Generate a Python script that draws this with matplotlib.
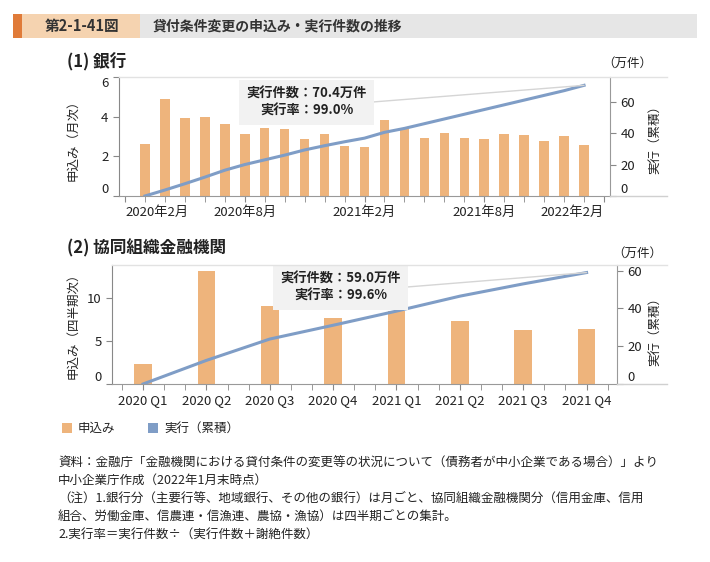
import matplotlib
matplotlib.use("Agg")
import matplotlib.pyplot as plt
from matplotlib.patches import Rectangle
from matplotlib.lines import Line2D
import numpy as np

plt.rcParams['font.family'] = ['Noto Sans CJK JP', 'DejaVu Sans']

# data -----------------------------------------------------------------
# (1) banks, monthly 2020/3 - 2022/1 (万件)
bank_apps = [2.61, 4.89, 3.93, 3.97, 3.62, 3.11, 3.43, 3.38, 2.89, 3.11, 2.52, 2.49,
             3.83, 3.38, 2.92, 3.18, 2.92, 2.89, 3.11, 3.06, 2.76, 3.03, 2.57]
bank_cum = [0, 3.8, 7.8, 12.0, 16.4, 20.0, 23.0, 26.0, 29.3, 32.0, 34.5, 36.8,
            40.5, 43.0, 46.0, 49.0, 52.0, 55.0, 58.0, 61.0, 64.0, 67.0, 70.4]
bank_ticklabels = ['2020年2月', '2020年8月', '2021年2月', '2021年8月', '2022年2月']

# (2) cooperative institutions, quarterly
quarters = ['2020 Q1', '2020 Q2', '2020 Q3', '2020 Q4', '2021 Q1', '2021 Q2', '2021 Q3', '2021 Q4']
coop_apps = [2.29, 13.1, 9.07, 7.7, 8.5, 7.33, 6.28, 6.4]
coop_cum = [0, 12.5, 23.8, 31.1, 38.6, 46.5, 53.0, 59.0]

bank_note = '実行件数：70.4万件\n実行率：99.0%'
coop_note = '実行件数：59.0万件\n実行率：99.6%'

BAR = '#EEB47C'
LINE = '#7F9DC6'
TXT = '#222222'
W, H = 710, 562


def fx(px):
    return px / W


def fy(py):
    return 1 - py / H


fig = plt.figure(figsize=(7.1, 5.62), dpi=100, facecolor='white')

# header --------------------------------------------------------------
fig.patches.append(Rectangle((fx(13), fy(38)), fx(9), 24 / H, transform=fig.transFigure,
                             facecolor='#E07B39', edgecolor='none'))
fig.patches.append(Rectangle((fx(22), fy(38)), fx(118), 24 / H, transform=fig.transFigure,
                             facecolor='#F5D3B0', edgecolor='none'))
fig.patches.append(Rectangle((fx(140), fy(38)), fx(557), 24 / H, transform=fig.transFigure,
                             facecolor='#E6E6E6', edgecolor='none'))
fig.text(fx(82), fy(26), '第2-1-41図', ha='center', va='center', fontsize=10.5,
         fontweight='bold', color='#333333')
fig.text(fx(153), fy(26), '貸付条件変更の申込み・実行件数の推移', ha='left', va='center',
         fontsize=10, fontweight='bold', color='#333333')


def style_axes(ax, ax2, rect):
    for s in ['top', 'right']:
        ax.spines[s].set_visible(False)
    ax.spines['left'].set_color('#888888')
    ax.spines['bottom'].set_color('#999999')
    for s in ['top', 'left', 'bottom']:
        ax2.spines[s].set_visible(False)
    ax2.spines['right'].set_color('#999999')
    ax.tick_params(axis='both', colors='#888888', labelcolor=TXT, labelsize=9.5, length=4)
    ax.tick_params(axis='x', which='minor', colors='#888888', length=4)
    ax2.tick_params(axis='y', colors='#888888', labelcolor=TXT, labelsize=9.5, length=4)
    # light frame lines that run past the right axis
    left, right, top, bottom = rect
    fig.lines.append(Line2D([fx(left), fx(667)], [fy(top), fy(top)], transform=fig.transFigure,
                            color='#E2E2E2', lw=1))
    fig.lines.append(Line2D([fx(right), fx(667)], [fy(bottom), fy(bottom)],
                            transform=fig.transFigure, color='#D0D0D0', lw=1))


def push_inside(ax):
    labels = ax.get_yticklabels()
    ticks = ax.get_yticks()
    lo, hi = ax.get_ylim()
    for t, lab in zip(ticks, labels):
        if abs(t - lo) < 1e-6:
            lab.set_va('bottom')
        elif abs(t - hi) < 1e-6:
            lab.set_va('top')


# (1) banks ------------------------------------------------------------
r1 = (119, 610, 77, 196)
ax1 = fig.add_axes([fx(r1[0]), fy(r1[3]), (r1[1] - r1[0]) / W, (r1[3] - r1[2]) / H])
ax1b = ax1.twinx()
x1 = np.arange(len(bank_apps))
ax1.bar(x1, bank_apps, width=0.48, color=BAR, zorder=2)
ax1.set_xlim(-1.3, 23.3)
ax1.set_ylim(0, 6)
ax1.set_yticks([0, 2, 4, 6])
major1 = np.arange(-1, 24, 6)
ax1.set_xticks(major1)
ax1.set_xticklabels(bank_ticklabels)
ax1.set_xticks(np.arange(-1, 24), minor=True)
xl = ax1.get_xticklabels()
xl[0].set_ha('left')
xl[-1].set_ha('right')
ax1b.plot(x1, bank_cum, color=LINE, lw=2.2, zorder=3)
ax1b.set_ylim(0, 75.7)
ax1b.set_yticks([0, 20, 40, 60])
style_axes(ax1, ax1b, r1)
push_inside(ax1)
push_inside(ax1b)
ax1b.annotate(bank_note, xy=(x1[-1], bank_cum[-1]), xycoords='data',
              xytext=(0.382, 0.786), textcoords='axes fraction', ha='center', va='center',
              fontsize=9.5, fontweight='bold', color=TXT, linespacing=1.25,
              bbox=dict(boxstyle='square,pad=0.55', facecolor='#F2F2F2', edgecolor='none'),
              arrowprops=dict(arrowstyle='-', color='#D5D5D5', lw=1,
                              relpos=(1, 0.5), shrinkA=0, shrinkB=0))

fig.text(fx(67), fy(62), '(1) 銀行', ha='left', va='center', fontsize=12, fontweight='bold',
         color=TXT)
fig.text(fx(73), fy(137), '申込み（月次）', rotation=90, ha='center', va='center',
         fontsize=9, color=TXT)
fig.text(fx(655), fy(137), '実行（累積）', rotation=90, ha='center', va='center',
         fontsize=9, color=TXT)
fig.text(fx(627), fy(63), '（万件）', ha='center', va='center', fontsize=9, color=TXT)

# (2) cooperative institutions ----------------------------------------
r2 = (112, 617, 265, 384)
ax2 = fig.add_axes([fx(r2[0]), fy(r2[3]), (r2[1] - r2[0]) / W, (r2[3] - r2[2]) / H])
ax2b = ax2.twinx()
x2 = np.arange(len(coop_apps))
ax2.bar(x2, coop_apps, width=0.28, color=BAR, zorder=2)
ax2.set_xlim(-0.49, 7.48)
ax2.set_ylim(0, 13.8)
ax2.set_yticks([0, 5, 10])
ax2.set_xticks(x2)
ax2.set_xticklabels(quarters)
minor2 = np.concatenate([x2 - 1 / 3, x2 + 1 / 3])
ax2.set_xticks(minor2, minor=True)
ax2b.plot(x2, coop_cum, color=LINE, lw=2.2, zorder=3)
ax2b.set_ylim(0, 63)
ax2b.set_yticks([0, 20, 40, 60])
style_axes(ax2, ax2b, r2)
push_inside(ax2)
push_inside(ax2b)
ax2b.annotate(coop_note, xy=(x2[-1], coop_cum[-1]), xycoords='data',
              xytext=(0.453, 0.811), textcoords='axes fraction', ha='center', va='center',
              fontsize=9.5, fontweight='bold', color=TXT, linespacing=1.25,
              bbox=dict(boxstyle='square,pad=0.55', facecolor='#F2F2F2', edgecolor='none'),
              arrowprops=dict(arrowstyle='-', color='#D5D5D5', lw=1,
                              relpos=(1, 0.5), shrinkA=0, shrinkB=0))

fig.text(fx(67), fy(248), '(2) 協同組織金融機関', ha='left', va='center', fontsize=12,
         fontweight='bold', color=TXT)
fig.text(fx(73), fy(323), '申込み（四半期次）', rotation=90, ha='center', va='center',
         fontsize=9, color=TXT)
fig.text(fx(655), fy(328), '実行（累積）', rotation=90, ha='center', va='center',
         fontsize=9, color=TXT)
fig.text(fx(637), fy(253), '（万件）', ha='center', va='center', fontsize=9, color=TXT)

# legend --------------------------------------------------------------
fig.patches.append(Rectangle((fx(62), fy(433)), fx(10), 10 / H, transform=fig.transFigure,
                             facecolor=BAR, edgecolor='none'))
fig.text(fx(78), fy(428), '申込み', ha='left', va='center', fontsize=9, color=TXT)
fig.patches.append(Rectangle((fx(148), fy(433)), fx(10), 10 / H, transform=fig.transFigure,
                             facecolor=LINE, edgecolor='none'))
fig.text(fx(164), fy(428), '実行（累積）', ha='left', va='center', fontsize=9, color=TXT)

# source / notes -------------------------------------------------------
notes = [
    '資料：金融庁「金融機関における貸付条件の変更等の状況について（債務者が中小企業である場合）」より',
    '中小企業庁作成（2022年1月末時点）',
    '（注）1.銀行分（主要行等、地域銀行、その他の銀行）は月ごと、協同組織金融機関分（信用金庫、信用',
    '組合、労働金庫、信農連・信漁連、農協・漁協）は四半期ごとの集計。',
    '2.実行率＝実行件数÷（実行件数＋謝絶件数）',
]
for i, line in enumerate(notes):
    fig.text(fx(58), fy(463 + 17.7 * i), line, ha='left', va='center', fontsize=9, color=TXT)

fig.savefig('out.png', dpi=100, facecolor='white')
